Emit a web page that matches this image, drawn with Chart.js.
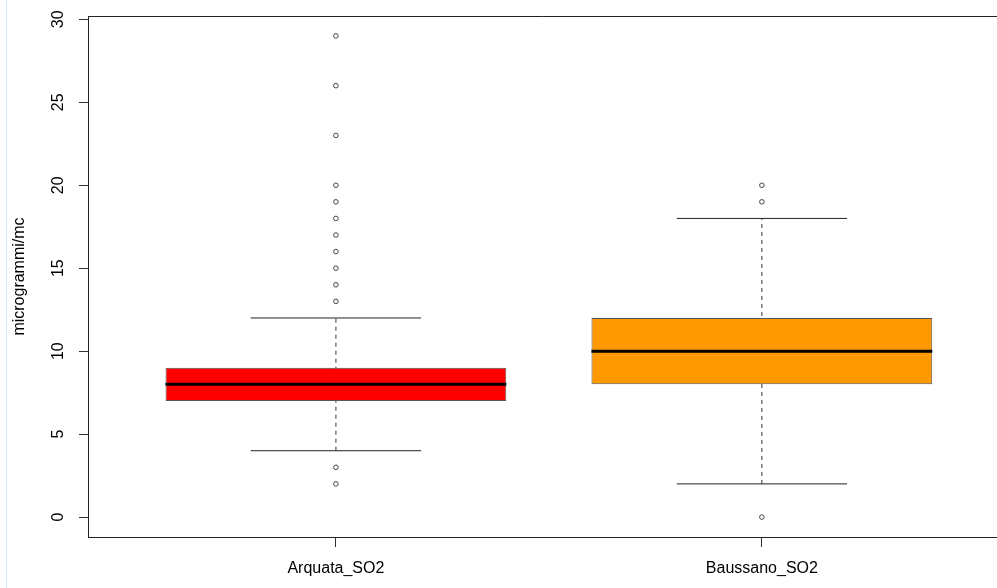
<!DOCTYPE html>
<html>
<head>
<meta charset="utf-8">
<script src="https://cdn.jsdelivr.net/npm/chart.js@4"></script>
<style>
  html, body { margin: 0; padding: 0; background: #fff; overflow: hidden; }
  #wrap { position: relative; width: 997px; height: 588px; }
  #box { display: block; }
  #edge { position: absolute; left: 6px; top: 0; width: 1px; height: 588px; background: #d5e5f4; }
</style>
</head>
<body>
<div id="wrap">
  <canvas id="box" width="997" height="588"></canvas>
  <div id="edge"></div>
</div>
<script>
const categories = ['Arquata_SO2', 'Baussano_SO2']
const lowerWhisker = [4, 2]
const q1 = [7, 8]
const median = [8, 10]
const q3 = [9, 12]
const upperWhisker = [12, 18]
const outliers = [
    [2, 3, 13, 14, 15, 16, 17, 18, 19, 20, 23, 26, 29],
    [0, 19, 20]
]
const yTicks = [0, 5, 10, 15, 20, 25, 30]

const boxColors = ['#ff0000', '#ff9900']
const boxHalf = 0.4
const capHalf = 0.2
const font = { family: 'Liberation Sans, Arial, sans-serif', size: 16 }

const positions = categories.map((c, i) => i + 1)

const datasets = []

positions.forEach((x, i) => {
    // dashed whisker, sits behind the box
    datasets.push({
        type: 'line',
        data: [{ x: x, y: lowerWhisker[i] }, { x: x, y: upperWhisker[i] }],
        borderColor: '#333',
        borderWidth: 1,
        borderDash: [4, 4],
        pointRadius: 0,
        order: 4
    })
    // whisker caps
    ;[lowerWhisker[i], upperWhisker[i]].forEach(v => {
        datasets.push({
            type: 'line',
            data: [{ x: x - capHalf, y: v }, { x: x + capHalf, y: v }],
            borderColor: '#222',
            borderWidth: 1,
            pointRadius: 0,
            order: 4
        })
    })
    // median
    datasets.push({
        type: 'line',
        data: [{ x: x - boxHalf, y: median[i] }, { x: x + boxHalf, y: median[i] }],
        borderColor: '#000',
        borderWidth: 3,
        borderCapStyle: 'butt',
        pointRadius: 0,
        order: 1
    })
    // outliers
    datasets.push({
        type: 'scatter',
        data: outliers[i].map(v => ({ x: x, y: v })),
        pointStyle: 'circle',
        pointRadius: 2.3,
        borderWidth: 1,
        borderColor: '#444',
        backgroundColor: '#fff',
        order: 1
    })
})

// boxes from q1 to q3
datasets.push({
    type: 'bar',
    data: positions.map((x, i) => ({ x: x, y: [q1[i], q3[i]] })),
    backgroundColor: boxColors,
    borderColor: '#555',
    borderWidth: 1,
    borderSkipped: false,
    barPercentage: boxHalf * 2,
    categoryPercentage: 1,
    order: 3
})

const frameTop = {
    id: 'frameTop',
    afterDraw(chart) {
        const { ctx, chartArea } = chart
        ctx.save()
        ctx.strokeStyle = '#222'
        ctx.lineWidth = 1
        ctx.beginPath()
        ctx.moveTo(chartArea.left, chartArea.top + 0.5)
        ctx.lineTo(chartArea.right, chartArea.top + 0.5)
        ctx.stroke()
        ctx.restore()
    }
}

new Chart(document.getElementById('box'), {
    data: { datasets },
    plugins: [frameTop],
    options: {
        responsive: false,
        devicePixelRatio: 1,
        animation: false,
        layout: { autoPadding: false, padding: { top: 16, left: 0, right: 0, bottom: 0 } },
        plugins: {
            legend: { display: false },
            tooltip: { enabled: false }
        },
        scales: {
            x: {
                type: 'linear',
                min: 0.418,
                max: 2.552,
                offset: false,
                afterBuildTicks: scale => { scale.ticks = positions.map(v => ({ value: v })) },
                afterFit: scale => {
                    scale.height = 51
                    scale.paddingLeft = 0
                    scale.paddingRight = 0
                },
                ticks: {
                    font,
                    color: '#000',
                    padding: 12,
                    maxRotation: 0,
                    autoSkip: false,
                    callback: v => categories[v - 1]
                },
                grid: { drawOnChartArea: false, offset: false, tickLength: 10, color: '#333' },
                border: { color: '#222', width: 1 }
            },
            y: {
                type: 'linear',
                min: -1.2,
                max: 30.2,
                afterBuildTicks: scale => { scale.ticks = yTicks.map(v => ({ value: v })) },
                afterFit: scale => {
                    scale.width = 88
                    scale.paddingTop = 0
                    scale.paddingBottom = 0
                },
                ticks: {
                    font,
                    color: '#000',
                    minRotation: 90,
                    maxRotation: 90,
                    crossAlign: 'center',
                    padding: 12
                },
                grid: { drawOnChartArea: false, tickLength: 9, color: '#333' },
                border: { color: '#222', width: 1 },
                title: {
                    display: true,
                    text: 'microgrammi/mc',
                    font,
                    color: '#000',
                    padding: { top: 10, bottom: 0 }
                }
            }
        }
    }
})
</script>
</body>
</html>
